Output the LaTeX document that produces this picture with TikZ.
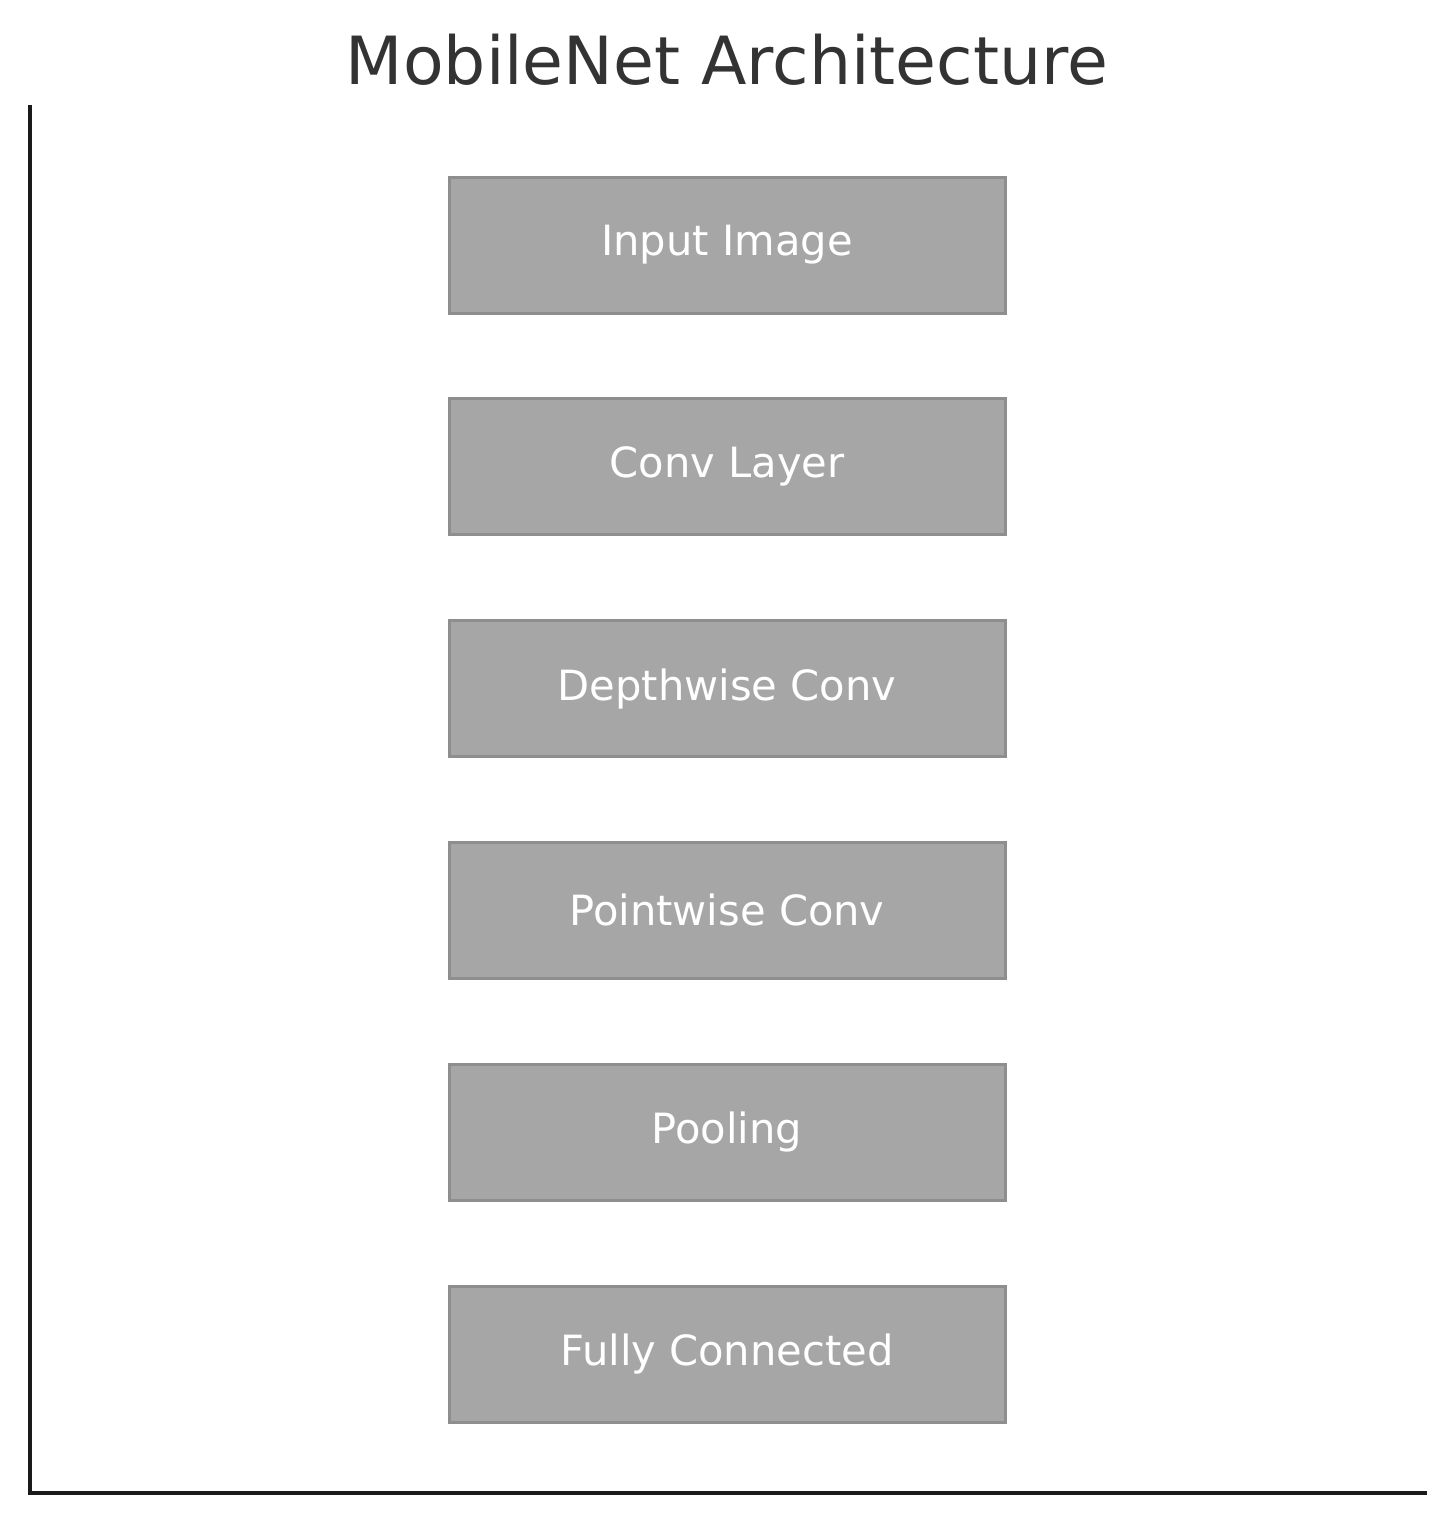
\documentclass[tikz,border=0pt]{standalone}
\usepackage{fontspec}
\setmainfont{DejaVu Sans}
\usepackage{xcolor}
\usetikzlibrary{positioning}
\definecolor{boxfill}{HTML}{A6A6A6}
\definecolor{boxline}{HTML}{8E8E8E}
\definecolor{axisink}{HTML}{1A1A1A}
\definecolor{titleink}{HTML}{333333}
\tikzset{
  layer/.style={draw=boxline,fill=boxfill,line width=0.03cm,
                minimum width=5.56cm,minimum height=1.36cm,inner sep=0pt,
                text=white,font=\fontsize{11.85}{14}\selectfont},
  axisline/.style={draw=axisink,line width=0.035cm}
}
\begin{document}
\begin{tikzpicture}[x=1cm,y=1cm]
    \path[use as bounding box,fill=white] (0,0) rectangle (14.55,-15.23);

    \node[text=titleink,font=\fontsize{18.9}{22}\selectfont] (title) at (7.27,-0.60)
      {MobileNet Architecture};

    \coordinate (top) at (0.30,-1.05);
    \coordinate (corner) at (0.30,-14.93);
    \coordinate (right) at (14.27,-14.93);
    \draw[axisline] (top) -- (corner) -- (right);

    \node[layer] (input) at (7.27,-2.45) {Input Image};
    \node[layer,below=0.828cm of input] (conv) {Conv Layer};
    \node[layer,below=0.828cm of conv] (depth) {Depthwise Conv};
    \node[layer,below=0.828cm of depth] (point) {Pointwise Conv};
    \node[layer,below=0.828cm of point] (pool) {Pooling};
    \node[layer,below=0.828cm of pool] (fc) {Fully Connected};
  \end{tikzpicture}
\end{document}
